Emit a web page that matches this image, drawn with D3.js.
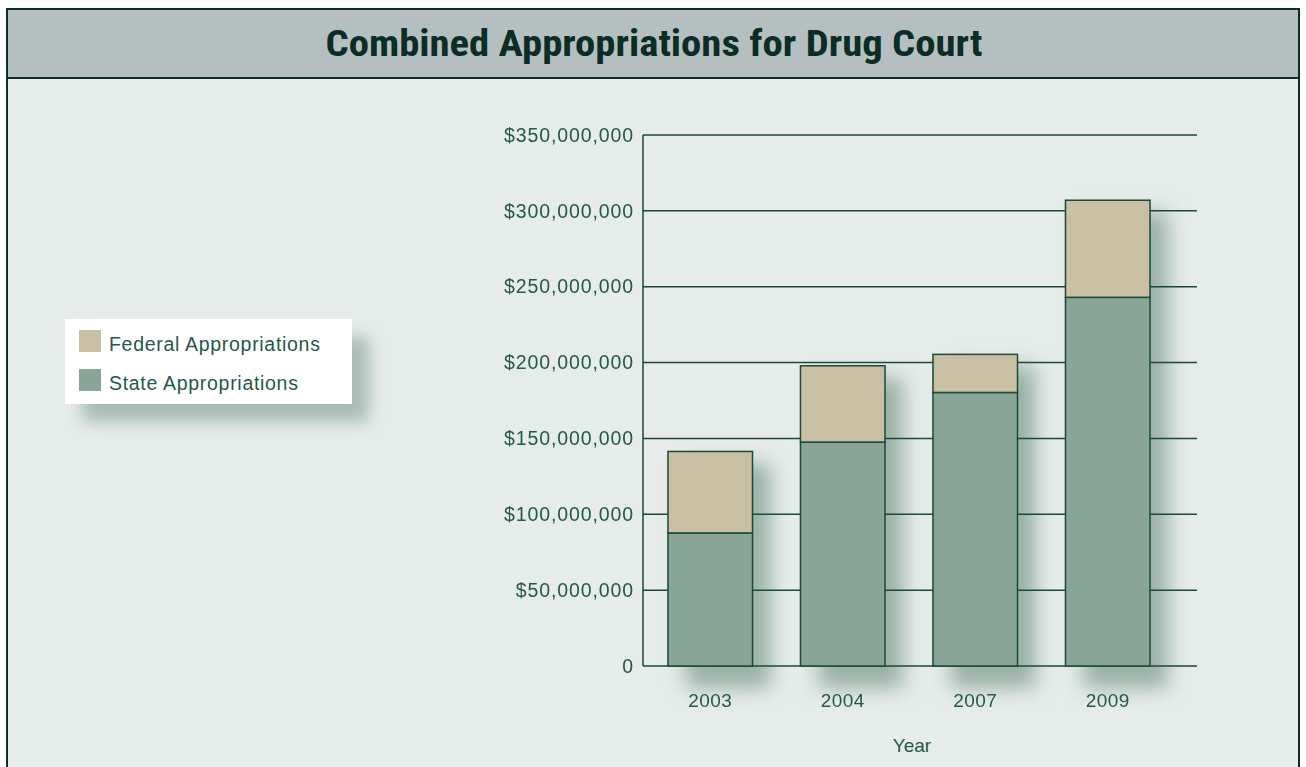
<!DOCTYPE html>
<html>
<head>
<meta charset="utf-8">
<script src="https://cdn.jsdelivr.net/npm/d3@7"></script>
<style>
  html, body { margin: 0; padding: 0; background: #ffffff; }
  svg { display: block; }
</style>
</head>
<body>
<svg id="chart" width="1306" height="767"></svg>
<script>
const title = "Combined Appropriations for Drug Court";
const years = ["2003", "2004", "2007", "2009"];
const stateValues = [87700000, 147600000, 180300000, 243000000];
const federalValues = [53700000, 50300000, 25100000, 64000000];
const seriesNames = ["Federal Appropriations", "State Appropriations"];
const yTicks = [0, 50000000, 100000000, 150000000, 200000000, 250000000, 300000000, 350000000];
const xAxisTitle = "Year";

const colors = { federal: "#c9bfa3", state: "#88a597", ink: "#245a47", line: "#1a4a38" };
const labelFont = "'Liberation Sans', Arial, sans-serif";

const svg = d3.select("#chart");
const defs = svg.append("defs");
const f1 = defs.append("filter").attr("id", "blur").attr("x", "-50%").attr("y", "-50%").attr("width", "200%").attr("height", "200%");
f1.append("feGaussianBlur").attr("stdDeviation", 10);
const f2 = defs.append("filter").attr("id", "blur2").attr("x", "-50%").attr("y", "-50%").attr("width", "200%").attr("height", "200%");
f2.append("feGaussianBlur").attr("stdDeviation", 8);

// Frame
svg.append("rect").attr("x", 7).attr("y", 9).attr("width", 1292).attr("height", 770)
  .attr("fill", "#e6ecea").attr("stroke", "#0b2e2a").attr("stroke-width", 2);
svg.append("rect").attr("x", 7).attr("y", 9).attr("width", 1292).attr("height", 69)
  .attr("fill", "#b6bfc0").attr("stroke", "#0b2e2a").attr("stroke-width", 2);
svg.append("text").attr("x", 654).attr("y", 56).attr("text-anchor", "middle")
  .attr("font-family", "'Liberation Sans Narrow', 'Roboto Condensed', 'Open Sans', sans-serif")
  .attr("font-weight", 700).attr("font-size", 37).attr("fill", "#0a2e25")
  .attr("textLength", 657).attr("lengthAdjust", "spacingAndGlyphs")
  .text(title);

// Scales
const gridLeft = 643, gridRight = 1197;
const x = d3.scaleBand().domain(years).range([gridLeft, gridRight])
  .paddingInner(0.362).paddingOuter(0.2716).align(0.347);
const y = d3.scaleLinear().domain([0, 350000000]).range([666, 135]);

const data = years.map((yr, i) => ({ year: yr, state: stateValues[i], federal: federalValues[i] }));

// Bar shadows
svg.append("g").attr("filter", "url(#blur)").selectAll("rect").data(data).join("rect")
  .attr("x", d => x(d.year) + 18)
  .attr("y", d => y(d.state + d.federal) + 12)
  .attr("width", x.bandwidth())
  .attr("height", d => y(0) - y(d.state + d.federal) + 10)
  .attr("fill", "#86a195").attr("opacity", 0.8);

// Gridlines
svg.append("g").selectAll("line").data(yTicks).join("line")
  .attr("x1", gridLeft).attr("x2", gridRight)
  .attr("y1", d => y(d)).attr("y2", d => y(d))
  .attr("stroke", colors.line).attr("stroke-width", 1.5);
svg.append("line").attr("x1", gridLeft).attr("x2", gridLeft).attr("y1", y(350000000)).attr("y2", y(0))
  .attr("stroke", colors.line).attr("stroke-width", 1.5);

// Y axis labels
const yAxis = d3.axisLeft(y).tickValues(yTicks).tickSize(0).tickPadding(9)
  .tickFormat(d => d === 0 ? "0" : "$" + d3.format(",")(d));
const gy = svg.append("g").attr("transform", `translate(${gridLeft},0)`).call(yAxis);
gy.select(".domain").remove();
gy.selectAll("text").attr("font-family", labelFont)
  .attr("font-size", 19.5).attr("letter-spacing", 0.9).attr("fill", colors.ink);

// Bars
const bars = svg.append("g");
bars.selectAll("rect.state").data(data).join("rect").attr("class", "state")
  .attr("x", d => x(d.year)).attr("width", x.bandwidth())
  .attr("y", d => y(d.state)).attr("height", d => y(0) - y(d.state))
  .attr("fill", colors.state).attr("stroke", colors.line).attr("stroke-width", 1.5);
bars.selectAll("rect.fed").data(data).join("rect").attr("class", "fed")
  .attr("x", d => x(d.year)).attr("width", x.bandwidth())
  .attr("y", d => y(d.state + d.federal)).attr("height", d => y(d.state) - y(d.state + d.federal))
  .attr("fill", colors.federal).attr("stroke", colors.line).attr("stroke-width", 1.5);

// X axis labels
const xAxis = d3.axisBottom(x).tickSize(0).tickPadding(28);
const gx = svg.append("g").attr("transform", `translate(0,${y(0)})`).call(xAxis);
gx.select(".domain").remove();
gx.selectAll("text").attr("font-family", labelFont)
  .attr("font-size", 19).attr("letter-spacing", 0.4).attr("fill", colors.ink);
svg.append("text").attr("x", 912).attr("y", 752).attr("text-anchor", "middle")
  .attr("font-family", labelFont)
  .attr("font-size", 19).attr("fill", colors.ink).text(xAxisTitle);

// Legend
const lg = svg.append("g");
lg.append("rect").attr("x", 82).attr("y", 337).attr("width", 287).attr("height", 85)
  .attr("fill", "#8fa89d").attr("opacity", 0.7).attr("filter", "url(#blur2)");
lg.append("rect").attr("x", 65).attr("y", 319).attr("width", 287).attr("height", 85).attr("fill", "#ffffff");
const legendColors = [colors.federal, colors.state];
seriesNames.forEach((name, i) => {
  lg.append("rect").attr("x", 79).attr("y", 330 + i * 39).attr("width", 22).attr("height", 22).attr("fill", legendColors[i]);
  lg.append("text").attr("x", 109).attr("y", 351 + i * 39)
    .attr("font-family", labelFont)
    .attr("font-size", 19.5).attr("letter-spacing", 0.7).attr("fill", colors.ink).text(name);
});
</script>
</body>
</html>
